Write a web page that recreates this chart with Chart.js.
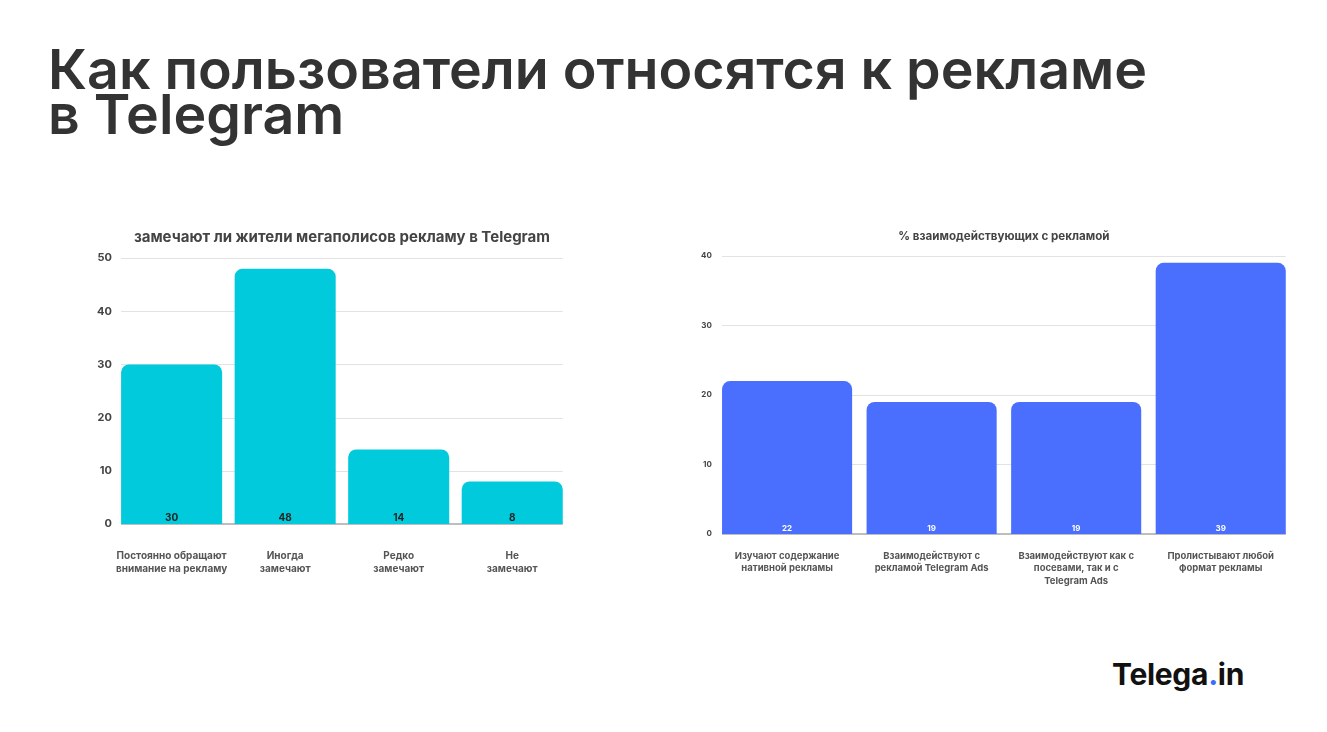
<!DOCTYPE html>
<html>
<head>
<meta charset="utf-8">
<script src="https://cdn.jsdelivr.net/npm/chart.js@4"></script>
<style>
    html, body { margin: 0; padding: 0; background: #fff; }
    body { width: 1327px; height: 732px; position: relative; overflow: hidden; font-family: Inter, sans-serif; }
    .page-title {
        position: absolute; left: 48px; top: 46px; margin: 0;
        font-size: 55.5px; font-weight: 600; line-height: 45px; color: #333;
    }
    .chart-box { position: absolute; }
    #notice-box { left: 94px; top: 222px; width: 481px; height: 371px; }
    #interact-box { left: 698px; top: 226px; width: 599px; height: 369px; }
    .logo {
        position: absolute; left: 1112px; top: 656px;
        font-size: 30px; font-weight: 700; color: #111; letter-spacing: -0.3px;
    }
    .logo span { color: #3d6bff; }
</style>
</head>
<body>
<h1 class="page-title">Как пользователи относятся к рекламе<br>в Telegram</h1>
<div class="chart-box" id="notice-box"><canvas id="notice-chart"></canvas></div>
<div class="chart-box" id="interact-box"><canvas id="interact-chart"></canvas></div>
<div class="logo">Telega<span>.</span>in</div>

<script>
// left chart
const noticeLabels = [
    ['Постоянно обращают', 'внимание на рекламу'],
    ['Иногда', 'замечают'],
    ['Редко', 'замечают'],
    ['Не', 'замечают']
];
const noticeValues = [30, 48, 14, 8];

// right chart
const interactLabels = [
    ['Изучают содержание', 'нативной рекламы'],
    ['Взаимодействуют с', 'рекламой Telegram Ads'],
    ['Взаимодействуют как с', 'посевами, так и с', 'Telegram Ads'],
    ['Пролистывают любой', 'формат рекламы']
];
const interactValues = [22, 19, 19, 39];

const chartColors = {
    'cyan'  : '#00CADB',
    'blue'  : '#4A6FFF',
    'grid'  : '#E2E2E2',
    'axis'  : '#A8A8A8',
    'text'  : '#444444'
};

// gridlines only span from the first bar's left edge to the last bar's right edge
const barGrid = {
    id: 'barGrid',
    beforeDatasetsDraw(chart) {
        const ctx = chart.ctx;
        const meta = chart.getDatasetMeta(0);
        const first = meta.data[0];
        const last = meta.data[meta.data.length - 1];
        const x0 = first.x - first.width / 2;
        const x1 = last.x + last.width / 2;
        const yScale = chart.scales.y;

        ctx.save();
        ctx.lineWidth = 1;
        ctx.strokeStyle = chartColors['grid'];
        yScale.ticks.forEach(function (t) {
            if (t.value === 0) return;
            const py = Math.round(yScale.getPixelForValue(t.value)) + 0.5;
            ctx.beginPath();
            ctx.moveTo(x0, py);
            ctx.lineTo(x1, py);
            ctx.stroke();
        });
        ctx.lineWidth = 1.5;
        ctx.strokeStyle = chartColors['axis'];
        const base = yScale.getPixelForValue(0);
        ctx.beginPath();
        ctx.moveTo(x0, base);
        ctx.lineTo(x1, base);
        ctx.stroke();
        ctx.restore();
    }
};

// value labels sit at the bottom of each bar
const bottomLabels = {
    id: 'bottomLabels',
    afterDatasetsDraw(chart, args, opts) {
        const ctx = chart.ctx;
        const meta = chart.getDatasetMeta(0);
        const data = chart.data.datasets[0].data;
        ctx.save();
        ctx.font = opts.font;
        ctx.fillStyle = opts.color;
        ctx.textAlign = 'center';
        ctx.textBaseline = 'middle';
        meta.data.forEach(function (bar, i) {
            ctx.fillText(data[i], bar.x, bar.base - opts.offset);
        });
        ctx.restore();
    }
};

function makeBarChart(canvasId, labels, values, cfg)
{
    return new Chart(document.getElementById(canvasId), {
        type: 'bar',
        data: {
            labels: labels,
            datasets: [{
                data: values,
                backgroundColor : cfg.color,
                borderRadius    : { topLeft: 8, topRight: 8 },
                borderSkipped   : 'bottom',
                barPercentage   : cfg.barPct,
                categoryPercentage: 1
            }]
        },
        options: {
            responsive: true,
            maintainAspectRatio: false,
            animation: false,
            layout: { padding: cfg.padding },
            plugins: {
                legend: { display: false },
                tooltip: { enabled: false },
                title: {
                    display: true,
                    fullSize: false,
                    text: cfg.title,
                    color: '#444',
                    font: { family: 'Inter', size: cfg.titleSize, weight: 'bold' },
                    padding: { top: 0, bottom: cfg.titleGap }
                },
                bottomLabels: cfg.valueLabels
            },
            scales: {
                x: {
                    grid: { display: false },
                    border: { display: false },
                    ticks: {
                        color: '#555',
                        padding: cfg.xPad,
                        maxRotation: 0,
                        autoSkip: false,
                        font: { family: 'Inter', size: cfg.xSize, weight: 'bold', lineHeight: cfg.xLine }
                    }
                },
                y: {
                    min: 0,
                    max: cfg.max,
                    border: { display: false },
                    grid: { display: false, drawTicks: false },
                    ticks: {
                        stepSize: 10,
                        color: '#444',
                        padding: cfg.yPad,
                        font: { family: 'Inter', size: cfg.ySize, weight: 'bold' }
                    }
                }
            }
        },
        plugins: [barGrid, bottomLabels]
    });
}

makeBarChart('notice-chart', noticeLabels, noticeValues, {
    color: chartColors['cyan'],
    barPct: 0.89,
    title: 'замечают ли жители мегаполисов рекламу в Telegram',
    titleSize: 15,
    titleGap: 12,
    max: 50,
    xSize: 10, xPad: 17, xLine: 1.35,
    ySize: 11, yPad: 3,
    padding: { left: 0, right: 6, top: 6, bottom: 0 },
    valueLabels: { font: 'bold 10px Inter', color: '#222', offset: 6 }
});

makeBarChart('interact-chart', interactLabels, interactValues, {
    color: chartColors['blue'],
    barPct: 0.9,
    title: '% взаимодействующих с рекламой',
    titleSize: 11.6,
    titleGap: 12,
    max: 40,
    xSize: 9.5, xPad: 8, xLine: 1.3,
    ySize: 8, yPad: 3,
    padding: { left: 0, right: 4, top: 4, bottom: 0 },
    valueLabels: { font: 'bold 8px Inter', color: '#fff', offset: 5 }
});
</script>
</body>
</html>
